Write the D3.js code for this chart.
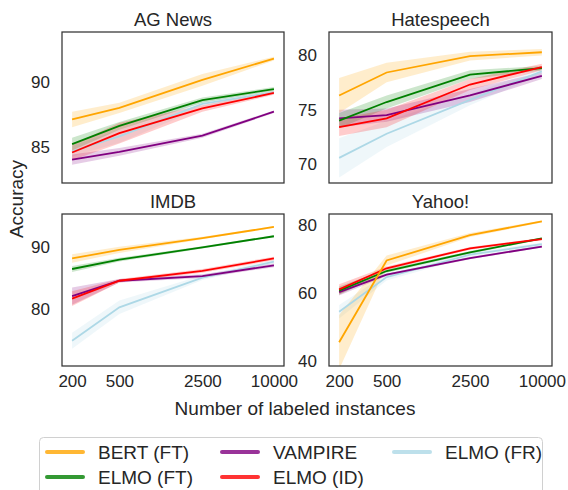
<!DOCTYPE html>
<html><head><meta charset="utf-8">
<script src="https://cdn.jsdelivr.net/npm/d3@7"></script>
<style>body{margin:0;background:#fff;}svg{display:block;font-family:"Liberation Sans",Arial,sans-serif;}</style>
</head><body><svg id="c" width="568" height="490"></svg>
<script>
const xValues = [200, 500, 2500, 10000];
const xTickLabels = ["200", "500", "2500", "10000"];
const models = ["BERT (FT)", "ELMO (FT)", "VAMPIRE", "ELMO (ID)", "ELMO (FR)"];
const modelColors = ["#ffa500", "#008000", "#800080", "#ff0000", "#add8e6"];
const drawOrder = ["ELMO (FR)", "VAMPIRE", "ELMO (FT)", "ELMO (ID)", "BERT (FT)"];
const datasets = ["AG News", "Hatespeech", "IMDB", "Yahoo!"];
const yDomains = [[82.2, 93.85], [68.3, 82.1], [70.8, 95.4], [38.4, 83.2]];
const yTicks = [[85, 90], [70, 75, 80], [80, 90], [40, 60, 80]];

// mean accuracy per dataset, per model (order of `models`)
const agNewsMean = [[87.1, 88.0, 90.15, 91.8], [85.2, 86.6, 88.6, 89.45], [84.0, 84.6, 85.85, 87.7], [84.55, 86.05, 87.95, 89.15], [84.65, 85.8, 88.3, 89.2]];
const agNewsErr  = [[0.6, 0.4, 0.45, 0.15], [0.5, 0.3, 0.2, 0.15], [0.4, 0.3, 0.15, 0.1], [0.6, 0.8, 0.25, 0.15], [0.4, 0.5, 0.3, 0.15]];
const hateMean = [[76.3, 78.4, 79.9, 80.25], [74.0, 75.7, 78.2, 78.8], [74.2, 74.5, 76.3, 78.1], [73.4, 74.2, 77.3, 78.9], [70.6, 72.8, 75.9, 78.5]];
const hateErr  = [[1.6, 0.9, 0.4, 0.3], [0.7, 0.6, 0.4, 0.2], [0.8, 0.6, 0.6, 0.3], [0.8, 0.8, 0.5, 0.3], [1.8, 1.2, 0.5, 0.3]];
const imdbMean = [[88.2, 89.6, 91.5, 93.3], [86.5, 88.0, 90.0, 91.8], [82.1, 84.6, 85.35, 87.1], [81.7, 84.6, 86.2, 88.2], [74.9, 80.3, 85.1, 87.7]];
const imdbErr  = [[0.7, 0.5, 0.2, 0.15], [0.5, 0.3, 0.2, 0.15], [1.4, 0.3, 0.3, 0.3], [1.2, 0.3, 0.3, 0.3], [1.3, 1.1, 0.4, 0.3]];
const yahooMean = [[45.4, 69.5, 77.0, 81.0], [60.6, 66.4, 71.9, 76.0], [60.2, 65.3, 70.2, 73.6], [61.0, 67.2, 73.1, 75.8], [54.4, 64.6, 71.2, 74.3]];
const yahooErr  = [[8.0, 1.5, 0.6, 0.3], [1.2, 0.5, 0.4, 0.3], [1.0, 0.4, 0.3, 0.3], [1.5, 0.5, 0.4, 0.3], [2.0, 1.0, 0.6, 0.5]];
const allMeans = [agNewsMean, hateMean, imdbMean, yahooMean];
const allErrs = [agNewsErr, hateErr, imdbErr, yahooErr];

const svg = d3.select("#c");
const panels = [
  {x0: 62, x1: 284, y0: 32, y1: 183},
  {x0: 329, x1: 552, y0: 32, y1: 183},
  {x0: 62, x1: 284, y0: 214, y1: 366},
  {x0: 329, x1: 552, y0: 214, y1: 366}
];
const textColor = "#262626";

panels.forEach((p, i) => {
  const lx = Math.log10(200), hx = Math.log10(10000), pad = (hx - lx) * 0.05;
  const x = d3.scaleLog().domain([Math.pow(10, lx - pad), Math.pow(10, hx + pad)]).range([p.x0, p.x1]);
  const y = d3.scaleLinear().domain(yDomains[i]).range([p.y1, p.y0]);
  const g = svg.append("g");
  const clipId = "clip" + i;
  svg.append("clipPath").attr("id", clipId).append("rect")
    .attr("x", p.x0).attr("y", p.y0).attr("width", p.x1 - p.x0).attr("height", p.y1 - p.y0);
  const plot = g.append("g").attr("clip-path", `url(#${clipId})`);
  drawOrder.forEach(name => {
    const m = models.indexOf(name);
    const pts = xValues.map((xv, k) => ({x: xv, m: allMeans[i][m][k], e: allErrs[i][m][k]}));
    plot.append("path").datum(pts)
      .attr("d", d3.area().x(d => x(d.x)).y0(d => y(d.m - d.e)).y1(d => y(d.m + d.e)))
      .attr("fill", modelColors[m]).attr("fill-opacity", 0.2).attr("stroke", "none");
  });
  drawOrder.forEach(name => {
    const m = models.indexOf(name);
    const pts = xValues.map((xv, k) => ({x: xv, m: allMeans[i][m][k]}));
    plot.append("path").datum(pts)
      .attr("d", d3.line().x(d => x(d.x)).y(d => y(d.m)))
      .attr("fill", "none").attr("stroke", modelColors[m]).attr("stroke-width", 1.8);
  });
  g.append("rect").attr("x", p.x0).attr("y", p.y0).attr("width", p.x1 - p.x0).attr("height", p.y1 - p.y0)
    .attr("fill", "none").attr("stroke", "#333").attr("stroke-width", 1.25);
  const ya = d3.axisLeft(y).tickValues(yTicks[i]).tickSize(0).tickPadding(12).tickFormat(d3.format("d"));
  const yg = g.append("g").attr("transform", `translate(${p.x0},0)`).call(ya);
  yg.select(".domain").remove();
  yg.selectAll("text").attr("fill", textColor).style("font-size", "17px").style("font-family", "Liberation Sans, Arial, sans-serif");
  if (i >= 2) {
    const xa = d3.axisBottom(x).tickValues(xValues).tickSize(0).tickPadding(9).tickFormat((d, k) => xTickLabels[k]);
    const xg = g.append("g").attr("transform", `translate(0,${p.y1})`).call(xa);
    xg.select(".domain").remove();
    xg.selectAll("text").attr("fill", textColor).style("font-size", "17px").style("font-family", "Liberation Sans, Arial, sans-serif");
  }
  g.append("text").attr("x", (p.x0 + p.x1) / 2).attr("y", p.y0 - 6).attr("text-anchor", "middle")
    .attr("fill", textColor).style("font-size", "18.5px").text(datasets[i]);
});

svg.append("text").attr("transform", "translate(23,199) rotate(-90)").attr("text-anchor", "middle")
  .attr("fill", textColor).style("font-size", "19px").text("Accuracy");
svg.append("text").attr("x", 295).attr("y", 415).attr("text-anchor", "middle")
  .attr("fill", textColor).style("font-size", "19px").text("Number of labeled instances");

const lg = svg.append("g");
lg.append("rect").attr("x", 39.5).attr("y", 437.5).attr("width", 503).attr("height", 70).attr("rx", 4)
  .attr("fill", "#fff").attr("fill-opacity", 0.8).attr("stroke", "#d0d0d0").attr("stroke-width", 1);
const legendCols = [45, 220, 392];
const legendRows = [452, 477];
models.forEach((name, k) => {
  const col = Math.floor(k / 2), row = k % 2;
  const lx = legendCols[col], ly = legendRows[row];
  lg.append("line").attr("x1", lx + 2).attr("x2", lx + 38).attr("y1", ly).attr("y2", ly)
    .attr("stroke", modelColors[k]).attr("stroke-opacity", 0.8).attr("stroke-width", 4).attr("stroke-linecap", "round");
  lg.append("text").attr("x", lx + 53).attr("y", ly).attr("dy", "0.35em").attr("fill", textColor)
    .style("font-size", "19px").text(name);
});
</script></body></html>
